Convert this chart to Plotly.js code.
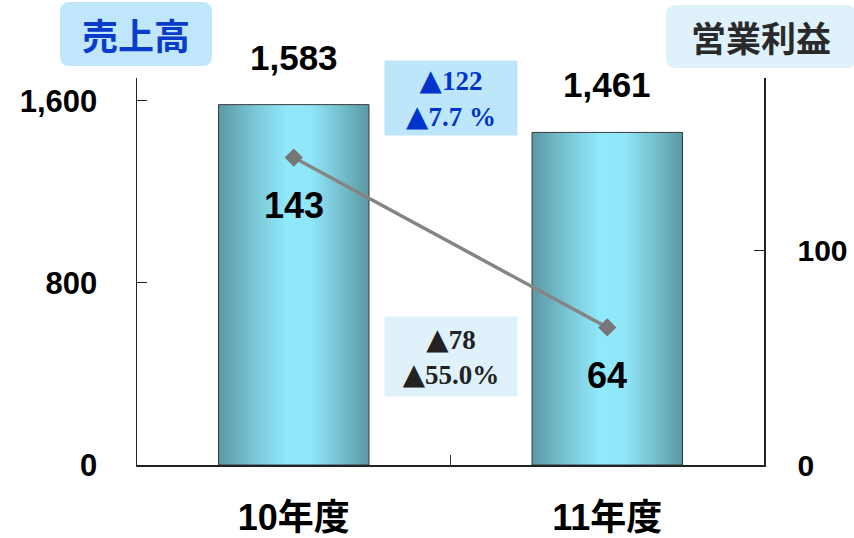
<!DOCTYPE html>
<html><head><meta charset="utf-8">
<script src="https://cdn.plot.ly/plotly-3.0.1.min.js"></script>
<style>html,body{margin:0;padding:0;background:#fff;}#chart{width:854px;height:538px;}</style>
</head><body><div id="chart"></div>
<script>
// ---- data ----
const categories = ['10年度', '11年度'];
const sales = [1583, 1461];          // 売上高 (left axis)
const profit = [143, 64];            // 営業利益 (right axis)
const salesTitle = '売上高';
const profitTitle = '営業利益';
const salesDelta = ['122', '7.7 %'];
const profitDelta = ['78', '55.0%'];
const leftTicks = [0, 800, 1600];
const leftTickText = ['<b>0</b>', '<b>800</b>', '<b>1,600</b>'];
const rightTicks = [0, 100];
const rightTickText = ['<b>0</b>', '<b>100</b>'];

const NUM = 'Liberation Sans, Noto Sans CJK JP, sans-serif';
const CJK = 'Noto Sans CJK JP, Liberation Sans, sans-serif';
const SERIF = 'Liberation Serif, DejaVu Serif, serif';
const fmt = v => v.toLocaleString('en-US');
const tri = '<span style="font-family:DejaVu Sans;font-size:29px">▲</span>';

const traces = [
  {type: 'bar', x: categories, y: sales, yaxis: 'y', width: 0.48,
   marker: {color: '#7cc8d8', line: {color: '#3a3a3a', width: 1}},
   hoverinfo: 'none'},
  {type: 'scatter', mode: 'lines+markers', x: categories, y: profit, yaxis: 'y2',
   line: {color: '#858585', width: 3.5},
   marker: {symbol: 'diamond', size: 14, color: '#777777'},
   hoverinfo: 'none'}
];

function roundedBox(cx, cy, w, h, r, color) {
  const x0 = -w/2, x1 = w/2, y0 = -h/2, y1 = h/2;
  const p = `M ${x0+r},${y0} L ${x1-r},${y0} Q ${x1},${y0} ${x1},${y0+r} L ${x1},${y1-r} Q ${x1},${y1} ${x1-r},${y1} L ${x0+r},${y1} Q ${x0},${y1} ${x0},${y1-r} L ${x0},${y0+r} Q ${x0},${y0} ${x0+r},${y0} Z`;
  return {type: 'path', xref: 'paper', yref: 'paper', xsizemode: 'pixel', ysizemode: 'pixel',
          xanchor: cx, yanchor: cy, path: p, fillcolor: color, line: {width: 0}, layer: 'below'};
}

const annotations = [];
categories.forEach((c, i) => {
  annotations.push({x: c, y: sales[i], xref: 'x', yref: 'y', text: '<b>' + fmt(sales[i]) + '</b>',
    showarrow: false, yanchor: 'bottom', yshift: 26,
    font: {family: NUM, size: 35, color: '#000'}});
  annotations.push({x: c, y: profit[i], xref: 'x', yref: 'y2', text: '<b>' + fmt(profit[i]) + '</b>',
    showarrow: false, yanchor: 'middle', yshift: -48,
    font: {family: NUM, size: 36, color: '#000'}});
});
annotations.push({xref: 'paper', yref: 'paper', x: -0.0016, y: 1.1137, text: '<b>' + salesTitle + '</b>',
  showarrow: false, xanchor: 'center', yanchor: 'middle',
  font: {family: CJK, size: 36, color: '#0a3ccc'}});
annotations.push({xref: 'paper', yref: 'paper', x: 0.995, y: 1.107, text: '<b>' + profitTitle + '</b>',
  showarrow: false, xanchor: 'center', yanchor: 'middle',
  font: {family: CJK, size: 35, color: '#2a2a2a'}});
annotations.push({xref: 'x', yref: 'paper', x: 0.5, y: (465-98)/387,
  text: salesDelta.map(t => tri + '<b>' + t + '</b>').join('<br>'), showarrow: false,
  xanchor: 'center', yanchor: 'middle', align: 'center',
  width: 130, height: 72, bgcolor: '#bee6fb',
  font: {family: SERIF, size: 27, color: '#0033cc'}});
annotations.push({xref: 'x', yref: 'paper', x: 0.5, y: (465-356.5)/387,
  text: profitDelta.map(t => tri + '<b>' + t + '</b>').join('<br>'), showarrow: false,
  xanchor: 'center', yanchor: 'middle', align: 'center',
  width: 130, height: 77, bgcolor: '#dff1fb',
  font: {family: SERIF, size: 27, color: '#222'}});

const layout = {
  width: 854, height: 538,
  margin: {l: 137, r: 90, t: 78, b: 73},
  paper_bgcolor: '#fff', plot_bgcolor: '#fff',
  showlegend: false,
  bargap: 0,
  xaxis: {type: 'category', range: [-0.5, 1.5], showgrid: false, zeroline: false,
    showline: true, linecolor: '#222', linewidth: 2,
    ticks: 'inside', tickson: 'boundaries', ticklen: 10, tickcolor: '#333', tickwidth: 1,
    ticklabelstandoff: 20,
    tickvals: categories, ticktext: categories.map(c => '<b>' + c + '</b>'),
    tickfont: {family: NUM, size: 36, color: '#000'}, fixedrange: true},
  yaxis: {range: [0, 1700], showgrid: false, zeroline: false,
    showline: true, linecolor: '#222', linewidth: 1.5,
    ticks: 'inside', ticklen: 10, tickcolor: '#222', tickwidth: 1,
    tickvals: leftTicks, ticktext: leftTickText, ticklabelstandoff: 32,
    tickfont: {family: NUM, size: 31, color: '#000'}},
  yaxis2: {range: [0, 180], overlaying: 'y', side: 'right', showgrid: false, zeroline: false,
    showline: true, linecolor: '#222', linewidth: 1.5,
    ticks: 'inside', ticklen: 10, tickcolor: '#222', tickwidth: 1,
    tickvals: rightTicks, ticktext: rightTickText, ticklabelstandoff: 26,
    tickfont: {family: NUM, size: 30, color: '#000'}},
  shapes: [
    roundedBox(-0.0016, 1.1137, 152, 64, 10, '#bfe6fb'),
    roundedBox(0.995, 1.107, 190, 63, 10, '#dff1fb')
  ],
  annotations: annotations
};

function applyGradient(gd) {
  const svg = gd.querySelector('svg.main-svg');
  if (!svg) return;
  const ns = 'http://www.w3.org/2000/svg';
  if (!svg.querySelector('#barGrad')) {
    let defs = svg.querySelector('defs');
    if (!defs) { defs = document.createElementNS(ns, 'defs'); svg.insertBefore(defs, svg.firstChild); }
    const g = document.createElementNS(ns, 'linearGradient');
    g.setAttribute('id', 'barGrad');
    g.setAttribute('x1', '0'); g.setAttribute('y1', '0'); g.setAttribute('x2', '1'); g.setAttribute('y2', '0');
    [['0', '#5b98a5'], ['0.22', '#77c3d2'], ['0.45', '#90e8fb'], ['0.62', '#8fe6f8'], ['0.85', '#70b8c6'], ['1', '#5b98a5']].forEach(([o, c]) => {
      const s = document.createElementNS(ns, 'stop');
      s.setAttribute('offset', o); s.setAttribute('stop-color', c);
      g.appendChild(s);
    });
    defs.appendChild(g);
  }
  gd.querySelectorAll('.barlayer .point path').forEach(p => {
    p.style.fill = 'url(#barGrad)';
  });
}

const gd = document.getElementById('chart');
Plotly.newPlot(gd, traces, layout, {displayModeBar: false, staticPlot: true}).then(() => {
  applyGradient(gd);
  gd.on('plotly_afterplot', () => applyGradient(gd));
});
</script></body></html>
